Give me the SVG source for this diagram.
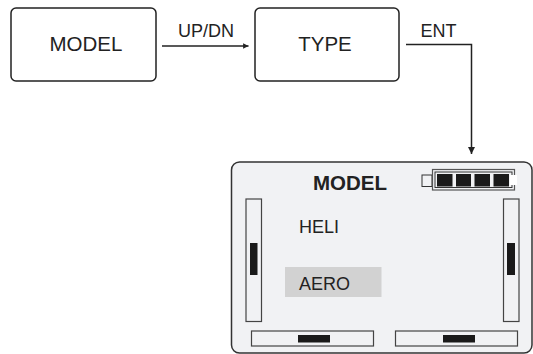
<svg xmlns="http://www.w3.org/2000/svg" width="533" height="354" viewBox="0 0 533 354">
<style>
.box{fill:#fff;stroke:#222;stroke-width:1.5}
.t{font-family:"Liberation Sans",Arial,sans-serif;fill:#222}
.bar{fill:#f1f2f4;stroke:#444;stroke-width:1.2}
.blk{fill:#1a1a1a}
.conn{fill:none;stroke:#222;stroke-width:1.5}
</style>
<defs>
<marker id="ah" viewBox="0 0 10 10" refX="10" refY="5" markerWidth="3.6" markerHeight="3.6" orient="auto" markerUnits="strokeWidth">
<path d="M0,0 L10,5 L0,10 z" fill="#222"/>
</marker>
<marker id="ah2" viewBox="0 0 10 10" refX="10" refY="5" markerWidth="5" markerHeight="5" orient="auto" markerUnits="strokeWidth">
<path d="M0,0 L10,5 L0,10 z" fill="#222"/>
</marker>
</defs>
<g id="node-model">
<rect class="box" x="11" y="8" width="145" height="73" rx="5"/>
<text class="t" x="86" y="51" font-size="20.5" text-anchor="middle">MODEL</text>
</g>
<g id="node-type">
<rect class="box" x="255" y="8" width="144" height="73" rx="5"/>
<text class="t" x="325" y="51" font-size="20.5" text-anchor="middle">TYPE</text>
</g>
<g id="connectors">
<line class="conn" x1="162" y1="46" x2="248.5" y2="46" stroke-width="2.4" marker-end="url(#ah)"/>
<text class="t" x="206" y="36.5" font-size="18" text-anchor="middle">UP/DN</text>
<polyline class="conn" points="406,44.5 471.5,44.5 471.5,154" marker-end="url(#ah2)"/>
<text class="t" x="438.5" y="36.5" font-size="18" text-anchor="middle">ENT</text>
</g>
<g id="node-lcd">
<rect x="231.5" y="162" width="300.5" height="191" rx="8" fill="#f1f2f4" stroke="#333" stroke-width="1.5"/>
<text class="t" x="350" y="190" font-size="20.5" font-weight="bold" text-anchor="middle">MODEL</text>
<rect x="422" y="175" width="10" height="11.5" fill="#f1f2f4" stroke="#333" stroke-width="1"/>
<rect x="432.5" y="169.5" width="82" height="20.5" fill="#f1f2f4" stroke="#555" stroke-width="1.2"/>
<rect x="435" y="172" width="77" height="15.5" fill="none" stroke="#333" stroke-width="1"/>
<rect class="blk" x="437" y="174" width="15.5" height="12.5"/>
<rect class="blk" x="456" y="174" width="15" height="12.5"/>
<rect class="blk" x="474.5" y="174" width="15.5" height="12.5"/>
<rect class="blk" x="493.5" y="174" width="15.5" height="12.5"/>
<rect x="510" y="175" width="7" height="10" fill="#fff"/>
<rect class="bar" x="246" y="199" width="15.5" height="122.5"/>
<rect class="blk" x="250" y="243" width="7.5" height="32"/>
<rect class="bar" x="503.5" y="199" width="15.5" height="122.5"/>
<rect class="blk" x="507" y="243" width="8" height="32"/>
<rect class="bar" x="251.5" y="331" width="122" height="15"/>
<rect class="blk" x="298" y="335" width="32" height="7.5"/>
<rect class="bar" x="395.5" y="331" width="122" height="15"/>
<rect class="blk" x="443" y="335" width="32" height="7.5"/>
<text class="t" x="299" y="232.5" font-size="18">HELI</text>
<rect x="285" y="267" width="96.5" height="30" fill="#d2d2d2"/>
<text class="t" x="299" y="290" font-size="18">AERO</text>
</g>
</svg>
